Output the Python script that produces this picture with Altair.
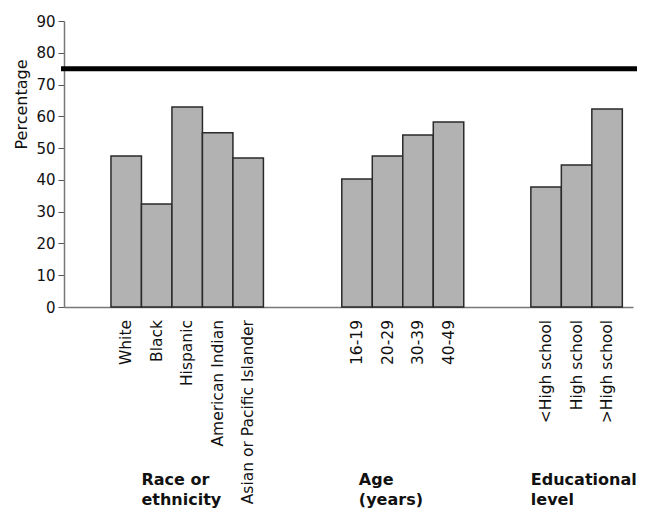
import altair as alt
import pandas as pd

# ---- data ----
race_labels = ["White", "Black", "Hispanic", "American Indian", "Asian or Pacific Islander"]
race_values = [47.5, 32.4, 62.9, 54.8, 46.9]
age_labels = ["16-19", "20-29", "30-39", "40-49"]
age_values = [40.3, 47.5, 54.1, 58.2]
edu_labels = ["<High school", "High school", ">High school"]
edu_values = [37.8, 44.7, 62.3]
group_titles = ["Race or\nethnicity", "Age\n(years)", "Educational\nlevel"]
target_value = 75
y_ticks = [0, 10, 20, 30, 40, 50, 60, 70, 80, 90]

# ---- layout (slot units) ----
group_starts = [1.54, 9.11, 15.31]
title_offsets = [1.0, 0.56, 0.0]
x_max = 18.66
W, H = 569, 286
FONT = "DejaVu Sans"

rows = []
for gi, (labs, vals) in enumerate([(race_labels, race_values), (age_labels, age_values), (edu_labels, edu_values)]):
    for i, (l, v) in enumerate(zip(labs, vals)):
        s = group_starts[gi] + i
        rows.append({"label": l, "value": v, "base": 0, "x0": s, "x1": s + 1, "xm": s + 0.5})
df = pd.DataFrame(rows)

tdf = pd.DataFrame({"title": group_titles,
                    "xt": [g + o for g, o in zip(group_starts, title_offsets)]})

xs = alt.Scale(domain=[0, x_max], nice=False, zero=False)
ys = alt.Scale(domain=[0, 90], nice=False)

x_axis = alt.Axis(labels=False, ticks=False, grid=False, title=None,
                  domainColor="#777", domainWidth=1.5)
y_axis = alt.Axis(values=y_ticks, grid=False, title="Percentage", tickSize=6,
                  labelOverlap=False, labelFlush=False,
                  labelPadding=3, labelFont=FONT, labelFontSize=15, labelColor="#111",
                  domainColor="#777", tickColor="#555", domainWidth=1.5,
                  titleFont=FONT, titleFontSize=16, titleFontWeight="normal",
                  titleColor="#111", titleY=83, titleX=-43, titleBaseline="middle",
                  titleAlign="center")

bars = alt.Chart(df).mark_bar(color="#b2b2b2", stroke="#2a2a2a", strokeWidth=1.5).encode(
    x=alt.X("x0:Q", scale=xs, axis=x_axis),
    x2="x1:Q",
    y=alt.Y("value:Q", scale=ys, axis=y_axis),
    y2="base:Q",
)

labels = alt.Chart(df).mark_text(angle=270, align="right", baseline="middle", font=FONT,
                                 fontSize=15.5, color="#111").encode(
    x=alt.X("xm:Q", scale=xs, axis=x_axis),
    y=alt.value(H + 13),
    text="label:N",
)

titles = alt.Chart(tdf).mark_text(align="left", baseline="alphabetic", font=FONT, fontSize=16,
                                  fontWeight="bold", color="#111", lineBreak="\n",
                                  lineHeight=20).encode(
    x=alt.X("xt:Q", scale=xs, axis=x_axis),
    y=alt.value(H + 178),
    text="title:N",
)

rule = alt.Chart(pd.DataFrame({"v": [target_value]})).mark_rule(color="black", strokeWidth=5).encode(
    y=alt.Y("v:Q", scale=ys, axis=y_axis),
    x=alt.value(-3),
    x2=alt.value(W + 4),
)

chart = alt.layer(bars, rule, labels, titles).properties(
    width=W, height=H, padding={"left": 5, "top": 6, "right": 0, "bottom": 0}
).configure_view(stroke=None)

chart.save("out.html", embed_options={"renderer": "svg", "actions": False})
